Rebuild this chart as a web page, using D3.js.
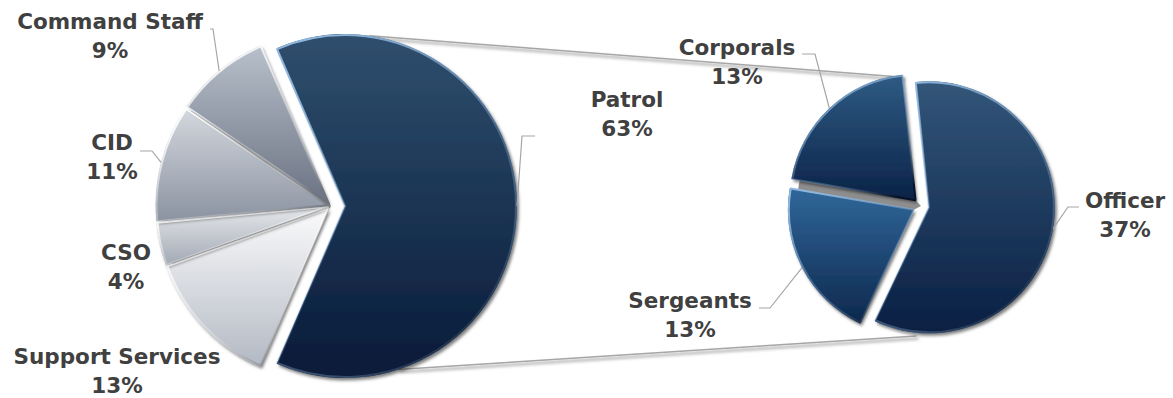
<!DOCTYPE html>
<html>
<head>
<meta charset="utf-8">
<script src="https://cdn.jsdelivr.net/npm/d3@7"></script>
<style>
  html, body { margin: 0; padding: 0; background: #fff; }
  svg text { font-family: "DejaVu Sans", Inter, sans-serif; font-weight: 700; fill: #404040; }
</style>
</head>
<body>
<svg id="chart" width="1173" height="398"></svg>
<script>
// Main pie (Patrol is broken out into the second pie)
const mainLabels = ['Patrol', 'Support Services', 'CSO', 'CID', 'Command Staff'];
const mainValues = [63, 13, 4, 11, 9];

// Breakdown of Patrol
const subLabels = ['Officer', 'Sergeants', 'Corporals'];
const subValues = [37, 13, 13];

const width = 1173;
const height = 398;
const rad = Math.PI / 180;

// Geometry of the two pies
const main = { cx: 331, cy: 206, r: 172 };
const sub = { cx: 921, cy: 206, r: 126 };
const mainExplode = { Patrol: 14 }; // others get a small gap
const subExplode = 8;

// Fill gradients (top colour, bottom colour), per slice
const fills = {
  'Patrol': ['#2f4f6e', '#081a38'],
  'Support Services': ['#fbfbfc', '#b3b9c3'],
  'CSO': ['#e6e8eb', '#a2a9b4'],
  'CID': ['#d4d8de', '#8b93a1'],
  'Command Staff': ['#b8c0cb', '#6b7383'],
  'Officer': ['#325679', '#0a1f42'],
  'Sergeants': ['#30679a', '#0d284d'],
  'Corporals': ['#2f5b84', '#0b2247']
};
const bevel = {
  dark: ['#8fb6dd', '#061226'],
  light: ['#ffffff', '#6f7580']
};

// Label layout: text centre x, first baseline y, optional leader start + elbow
const labelLayout = {
  'Command Staff': { x: 110, y: 29, lead: [[210, 29], [213, 29]] },
  'CID': { x: 112, y: 150, lead: [[140, 151], [152, 151]] },
  'CSO': { x: 126, y: 260 },
  'Support Services': { x: 117, y: 364 },
  'Patrol': { x: 627, y: 107, lead: [[535, 136], [522, 136]] },
  'Corporals': { x: 737, y: 55, lead: [[802, 54], [815, 54]] },
  'Sergeants': { x: 690, y: 308, lead: [[759, 308], [770, 308]] },
  'Officer': { x: 1125, y: 208, lead: [[1079, 207], [1068, 207]] }
};

const svg = d3.select('#chart').attr('width', width).attr('height', height);
const defs = svg.append('defs');

// Shadow like the Office preset
const shadow = defs.append('filter').attr('id', 'shadow')
  .attr('x', '-20%').attr('y', '-20%').attr('width', '140%').attr('height', '140%');
shadow.append('feDropShadow')
  .attr('dx', 2).attr('dy', 2.5).attr('stdDeviation', 1.8)
  .attr('flood-color', '#000').attr('flood-opacity', 0.5);

const makeFill = (name) => {
  const g = defs.append('linearGradient').attr('id', 'fill-' + name.replace(/\s/g, ''))
    .attr('x1', 0).attr('x2', 0).attr('y1', 0).attr('y2', 1);
  g.append('stop').attr('offset', '0%').attr('stop-color', fills[name][0]);
  g.append('stop').attr('offset', '100%').attr('stop-color', fills[name][1]);
};
['dark', 'light'].forEach(k => {
  const g = defs.append('linearGradient').attr('id', 'bevel-' + k)
    .attr('x1', 0.2).attr('y1', 0).attr('x2', 0.8).attr('y2', 1);
  g.append('stop').attr('offset', '0%').attr('stop-color', bevel[k][0]);
  g.append('stop').attr('offset', '55%').attr('stop-color', bevel[k][0]).attr('stop-opacity', 0.3);
  g.append('stop').attr('offset', '100%').attr('stop-color', bevel[k][1]);
});

const polar = (cx, cy, r, a) => [cx + r * Math.sin(a), cy - r * Math.cos(a)];

// Main pie: Patrol centred on the right-hand side
const mainTotal = d3.sum(mainValues);
const patrolSpan = 2 * Math.PI * mainValues[0] / mainTotal;
const mainStart = Math.PI / 2 - patrolSpan / 2;
const mainArcs = d3.pie().sort(null).startAngle(mainStart).endAngle(mainStart + 2 * Math.PI)(mainValues)
  .map((d, i) => {
    const mid = (d.startAngle + d.endAngle) / 2;
    const e = mainExplode[mainLabels[i]] ?? 3.5;
    return { ...d, name: mainLabels[i], mid, cx: main.cx + e * Math.sin(mid), cy: main.cy - e * Math.cos(mid), r: main.r, dark: i === 0 };
  });

// Second pie
const subArcs = d3.pie().sort(null).startAngle(-6 * rad).endAngle(-6 * rad + 2 * Math.PI)(subValues)
  .map((d, i) => {
    const mid = (d.startAngle + d.endAngle) / 2;
    return { ...d, name: subLabels[i], mid, cx: sub.cx + subExplode * Math.sin(mid), cy: sub.cy - subExplode * Math.cos(mid), r: sub.r, dark: true };
  });

mainLabels.forEach(makeFill);
subLabels.forEach(makeFill);

// Connector lines between the Patrol slice and the second pie
const patrol = mainArcs[0];
const connectors = [
  [polar(patrol.cx, patrol.cy, patrol.r, 8 * rad), polar(sub.cx, sub.cy, sub.r + 4, -8 * rad)],
  [polar(patrol.cx, patrol.cy, patrol.r, 162 * rad), polar(sub.cx, sub.cy, sub.r + 4, 182 * rad)]
];
svg.append('g').selectAll('line').data(connectors).join('line')
  .attr('x1', d => d[0][0]).attr('y1', d => d[0][1])
  .attr('x2', d => d[1][0]).attr('y2', d => d[1][1])
  .attr('stroke', '#a6a6a6').attr('stroke-width', 1.5)
  .attr('filter', 'url(#shadow)');

// Grey shadow showing through the gaps between neighbouring slices
const arcGen = d3.arc().innerRadius(0);
const underlay = (pie, a0, a1, inset) => svg.append('path')
  .attr('transform', `translate(${pie.cx},${pie.cy})`)
  .attr('d', arcGen.outerRadius(pie.r - inset)({ startAngle: a0, endAngle: a1 }))
  .attr('fill', '#8e8e8e');
underlay(main, mainArcs[1].startAngle + 4 * rad, mainArcs[4].endAngle - 4 * rad, 3);
underlay(sub, subArcs[1].mid, subArcs[2].mid, 2);

// Slices
const drawSlices = (arcs) => {
  const g = svg.append('g');
  g.selectAll('path.slice').data(arcs).join('path')
    .attr('class', 'slice')
    .attr('transform', d => `translate(${d.cx},${d.cy})`)
    .attr('d', d => arcGen.outerRadius(d.r)(d))
    .attr('fill', d => `url(#fill-${d.name.replace(/\s/g, '')})`)
    .attr('filter', 'url(#shadow)');
  // bevel edge
  g.selectAll('path.bevel').data(arcs).join('path')
    .attr('class', 'bevel')
    .attr('transform', d => `translate(${d.cx},${d.cy})`)
    .attr('d', d => arcGen.outerRadius(d.r - 1)(d))
    .attr('fill', 'none')
    .attr('stroke', d => d.dark ? 'url(#bevel-dark)' : 'url(#bevel-light)')
    .attr('stroke-width', 2)
    .attr('stroke-linejoin', 'round');
};
drawSlices(mainArcs);
drawSlices(subArcs);

// Labels with leader lines
const allArcs = mainArcs.concat(subArcs);
const valueOf = name => {
  const i = mainLabels.indexOf(name);
  return i >= 0 ? mainValues[i] : subValues[subLabels.indexOf(name)];
};
const line = d3.line();
const labels = svg.append('g');
allArcs.forEach(d => {
  const L = labelLayout[d.name];
  if (L.lead) {
    const end = polar(d.cx, d.cy, d.r, d.mid);
    labels.append('path')
      .attr('d', line([...L.lead, end]))
      .attr('fill', 'none').attr('stroke', '#a6a6a6').attr('stroke-width', 1.2);
  }
  const t = labels.append('text').attr('text-anchor', 'middle').style('font-size', '21.5px');
  t.append('tspan').attr('x', L.x).attr('y', L.y).text(d.name);
  t.append('tspan').attr('x', L.x).attr('y', L.y + 29).text(`${valueOf(d.name)}%`);
});
</script>
</body>
</html>
